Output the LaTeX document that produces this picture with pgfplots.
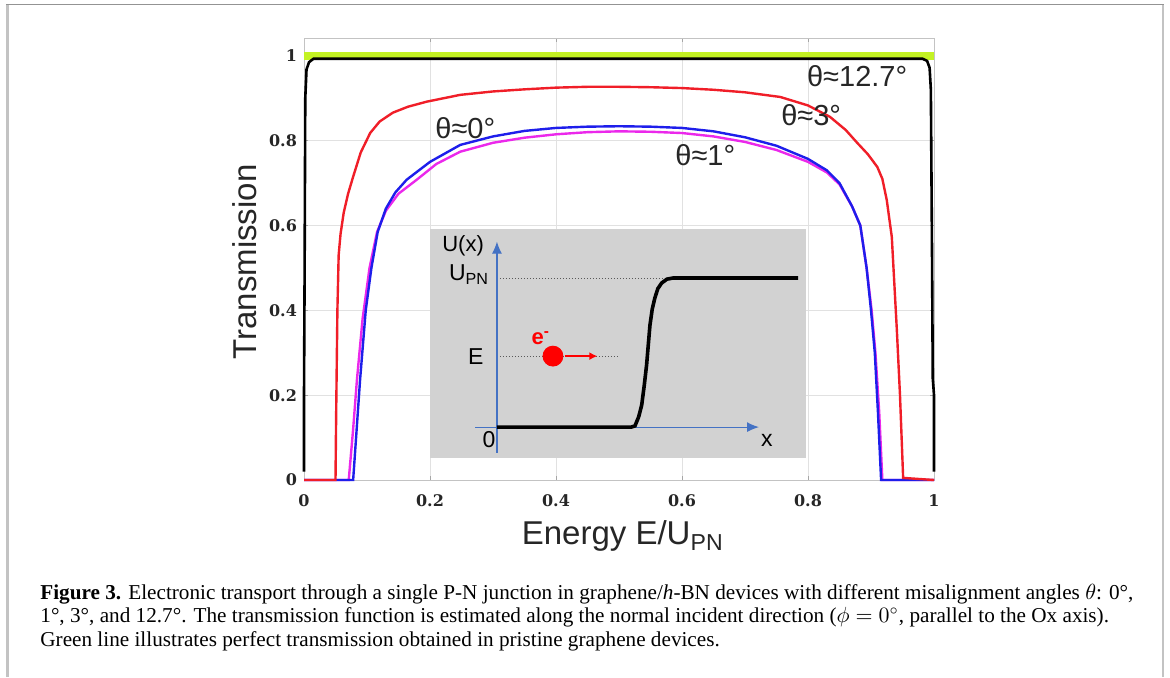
\documentclass[border=0pt]{standalone}
\usepackage{fontspec}
\setmainfont{Liberation Serif}
\newfontfamily\sans{Liberation Sans}
\newfontfamily\tickfont{DejaVu Serif}
\usepackage{pgfplots}
\pgfplotsset{compat=1.18}
\usetikzlibrary{arrows.meta}
\definecolor{tgreen}{RGB}{195,242,35}
\definecolor{tred}{RGB}{240,30,40}
\definecolor{tblue}{RGB}{30,30,235}
\definecolor{tmag}{RGB}{235,40,235}
\definecolor{insetgray}{RGB}{210,210,210}
\definecolor{insetblue}{RGB}{68,114,196}
\definecolor{gridgray}{RGB}{225,225,225}
\definecolor{framegray}{RGB}{195,195,195}
\begin{document}
\begin{tikzpicture}
\useasboundingbox (0,0) rectangle (585pt,-338.5pt);
% page frame
\draw[framegray, line width=1.2pt] (3.75pt,-338.5pt) -- (3.75pt,-2.25pt);
\draw[framegray, line width=1.2pt] (581.5pt,-338.5pt) -- (581.5pt,-2.25pt);
\draw[gray!85, line width=0.6pt] (3.2pt,-2.25pt) -- (582pt,-2.25pt);

\begin{axis}[
  at={(152pt,-240pt)}, anchor=south west,
  width=315pt, height=221pt, scale only axis,
  xmin=0, xmax=1, ymin=0, ymax=1.042,
  xtick={0,0.2,0.4,0.6,0.8,1},
  ytick={0,0.2,0.4,0.6,0.8,1},
  /pgf/number format/assume math mode=true,
  tick label style={font=\tickfont\bfseries\fontsize{8}{9}\selectfont, text=black!85},
  xticklabel style={yshift=-4pt},
  grid=major, major grid style={gridgray, line width=0.5pt},
  axis line style={framegray, line width=0.5pt},
  tick style={gray!70, line width=0.4pt}, major tick length=2pt,
  tick align=inside,
  clip=false,
  xlabel={Energy E/U\textsubscript{PN}},
  xlabel style={font=\sans\fontsize{16.5}{18}\selectfont, text=black!85, at={(axis description cs:0.506,-0.147)}, anchor=base},
  ylabel={Transmission},
  ylabel style={font=\sans\fontsize{16.5}{18}\selectfont, text=black!85, at={(axis description cs:-0.094,0.493)}, anchor=center, rotate=0},
]
% pristine graphene
\addplot[tgreen, line width=4pt] coordinates {(0,1) (1,1)};
% theta ~ 1 deg
\addplot[tmag, line width=1.2pt] coordinates {
(0,0) (0.071,0) (0.078,0.12) (0.084,0.236) (0.093,0.38) (0.104,0.5) (0.116,0.585)
(0.13,0.635) (0.15,0.675) (0.179,0.708) (0.21,0.745) (0.248,0.774) (0.3,0.795)
(0.35,0.807) (0.4,0.815) (0.45,0.82) (0.5,0.822) (0.55,0.821) (0.6,0.818)
(0.65,0.81) (0.7,0.797) (0.75,0.778) (0.8,0.75) (0.83,0.725) (0.85,0.697)
(0.87,0.645) (0.883,0.6) (0.893,0.5) (0.901,0.4) (0.907,0.3) (0.913,0.16) (0.918,0) (1,0)};
% theta ~ 0 deg
\addplot[tblue, line width=1.2pt] coordinates {
(0,0) (0.078,0) (0.089,0.236) (0.098,0.4) (0.107,0.5) (0.117,0.585) (0.13,0.64)
(0.145,0.678) (0.163,0.708) (0.2,0.75) (0.248,0.79) (0.3,0.81) (0.35,0.823)
(0.4,0.83) (0.45,0.833) (0.5,0.834) (0.55,0.833) (0.6,0.83) (0.65,0.822)
(0.7,0.808) (0.75,0.788) (0.8,0.757) (0.83,0.73) (0.85,0.70) (0.87,0.645)
(0.883,0.6) (0.893,0.5) (0.9,0.4) (0.906,0.3) (0.911,0.16) (0.916,0) (1,0)};
% theta ~ 3 deg
\addplot[tred, line width=1.2pt] coordinates {
(0,0) (0.05,0) (0.051,0.15) (0.053,0.4) (0.055,0.53) (0.058,0.58) (0.063,0.63)
(0.07,0.675) (0.078,0.715) (0.09,0.772) (0.105,0.818) (0.12,0.845) (0.141,0.866)
(0.165,0.88) (0.195,0.892) (0.248,0.908) (0.3,0.916) (0.35,0.921) (0.4,0.925)
(0.45,0.927) (0.5,0.927) (0.55,0.926) (0.6,0.924) (0.65,0.92) (0.7,0.914)
(0.756,0.903) (0.8,0.883) (0.835,0.856) (0.86,0.825) (0.878,0.795) (0.895,0.768)
(0.91,0.738) (0.918,0.71) (0.925,0.66) (0.933,0.573) (0.941,0.354) (0.946,0.2)
(0.951,0.005) (1,0)};
% theta ~ 12.7 deg
\addplot[black, line width=1.3pt] coordinates {
(0,0.02) (0,0.2) (0.001,0.5) (0.002,0.9) (0.004,0.968) (0.008,0.985) (0.015,0.993)
(0.5,0.993) (0.982,0.993) (0.989,0.988) (0.993,0.972) (0.995,0.92) (0.997,0.5)
(0.998,0.24) (1,0.2) (1,0.02)};
\node[font=\sans\fontsize{14.5}{16}\selectfont, text=black!85] at (axis cs:0.256,0.83) {θ≈0°};
\node[font=\sans\fontsize{14.5}{16}\selectfont, text=black!85] at (axis cs:0.637,0.767) {θ≈1°};
\node[font=\sans\fontsize{14.5}{16}\selectfont, text=black!85] at (axis cs:0.805,0.861) {θ≈3°};
\node[font=\sans\fontsize{14.5}{16}\selectfont, text=black!85] at (axis cs:0.878,0.953) {θ≈12.7°};
\end{axis}

% inset
\begin{axis}[
  at={(215pt,-229pt)}, anchor=south west,
  width=188pt, height=114.5pt, scale only axis,
  xmin=0, xmax=1, ymin=0, ymax=1,
  axis line style={draw=none}, ticks=none,
  axis background/.style={fill=insetgray},
  clip=false,
]
\addplot[black!65, densely dotted, line width=0.5pt] coordinates {(0.178,0.786) (0.62,0.786)};
\addplot[black!65, densely dotted, line width=0.5pt] coordinates {(0.178,0.445) (0.5,0.445)};
\addplot[insetblue, line width=0.6pt, -{Latex[length=6pt,width=5pt]}] coordinates {(0.178,0.022) (0.178,0.945)};
\addplot[insetblue, line width=0.6pt, -{Latex[length=6pt,width=5pt]}] coordinates {(0.12,0.135) (0.875,0.135)};
\addplot[black, line width=1.8pt] coordinates {
(0.178,0.135) (0.535,0.135) (0.545,0.14) (0.555,0.18) (0.563,0.231) (0.57,0.32)
(0.576,0.406) (0.585,0.581) (0.591,0.65) (0.598,0.699) (0.606,0.74) (0.616,0.764)
(0.63,0.781) (0.646,0.786) (0.979,0.786)};
\addplot[red, line width=1.3pt, -{Latex[length=4pt,width=4pt]}] coordinates {(0.36,0.445) (0.445,0.445)};
\addplot[red, only marks, mark=*, mark size=5pt] coordinates {(0.327,0.445)};
\node[font=\sans\fontsize{11}{12}\selectfont] at (axis cs:0.088,0.926) {U(x)};
\node[font=\sans\fontsize{11.5}{12}\selectfont, anchor=east, inner sep=0pt] at (axis cs:0.158,0.8) {U\textsubscript{PN}};
\node[font=\sans\fontsize{11.5}{12}\selectfont] at (axis cs:0.122,0.445) {E};
\node[font=\sans\fontsize{11.5}{12}\selectfont] at (axis cs:0.157,0.079) {0};
\node[font=\sans\fontsize{11.5}{12}\selectfont] at (axis cs:0.896,0.079) {x};
\node[font=\sans\bfseries\fontsize{11}{12}\selectfont, text=red] at (axis cs:0.295,0.525) {e\textsuperscript{-}};
\end{axis}

% caption
\node[anchor=base west, inner sep=0pt, font=\fontsize{10.6}{11.75}\selectfont, align=left] at (20pt,-323pt)
{\textbf{Figure 3.} Electronic transport through a single P-N junction in graphene/\textit{h}-BN devices with different misalignment angles $\theta$: 0°,\\
1°, 3°, and 12.7°. The transmission function is estimated along the normal incident direction ($\phi = 0^{\circ}$, parallel to the Ox axis).\\
Green line illustrates perfect transmission obtained in pristine graphene devices.};
\end{tikzpicture}
\end{document}
